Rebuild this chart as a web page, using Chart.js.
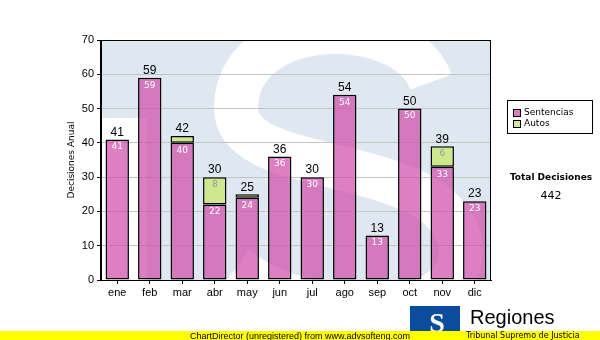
<!DOCTYPE html>
<html>
<head>
<meta charset="utf-8">
<script src="https://cdn.jsdelivr.net/npm/chart.js@4/dist/chart.umd.min.js"></script>
<style>
  html, body { margin: 0; padding: 0; background: #fff; }
  canvas { display: block; }
</style>
</head>
<body>
<canvas id="chart" width="600" height="340"></canvas>
<script>
// datos
var meses = ["ene", "feb", "mar", "abr", "may", "jun", "jul", "ago", "sep", "oct", "nov", "dic"];
var sentencias = [41, 59, 40, 22, 24, 36, 30, 54, 13, 50, 33, 23];
var autos = [0, 0, 2, 8, 1, 0, 0, 0, 0, 0, 6, 0];
var yTicks = [0, 10, 20, 30, 40, 50, 60, 70];

var total = 0;
for (var i = 0; i < meses.length; i++) total += sentencias[i] + autos[i];

var ARIAL = "'Liberation Sans', Arial, sans-serif";
var TAHOMA = "'DejaVu Sans', Verdana, sans-serif";

// fondo del area del grafico con la "S" blanca
var fondo = {
  id: "fondo",
  beforeDraw: function (chart) {
    var c = chart.ctx, a = chart.chartArea;
    c.save();
    c.beginPath();
    c.rect(a.left, a.top, a.right - a.left, a.bottom - a.top);
    c.clip();
    c.fillStyle = "#dfe8f1";
    c.fillRect(a.left, a.top, a.right - a.left, a.bottom - a.top);
    c.fillStyle = "#ffffff";
    c.fillRect(a.left, a.top + 78, 46, a.bottom - a.top - 78);
    c.strokeStyle = "#ffffff";
    c.lineWidth = 44;
    c.lineCap = "butt";
    c.beginPath();
    c.moveTo(a.left + 330, a.top + 42);
    c.bezierCurveTo(a.left + 305, a.top - 28, a.left + 140, a.top - 28, a.left + 135, a.top + 65);
    c.bezierCurveTo(a.left + 132, a.top + 120, a.left + 235, a.top + 118, a.left + 305, a.top + 148);
    c.bezierCurveTo(a.left + 390, a.top + 182, a.left + 372, a.top + 268, a.left + 280, a.top + 268);
    c.bezierCurveTo(a.left + 220, a.top + 268, a.left + 175, a.top + 258, a.left + 135, a.top + 228);
    c.stroke();
    c.restore();
  },
  afterDatasetsDraw: function (chart) {
    var c = chart.ctx, a = chart.chartArea;
    c.save();
    c.strokeStyle = "#000";
    c.lineWidth = 1;
    c.strokeRect(a.left - 0.5, a.top + 0.5, a.right - a.left, a.bottom - a.top);
    c.restore();
  }
};

// etiquetas, leyenda, total y pie
var extras = {
  id: "extras",
  afterDraw: function (chart) {
    var c = chart.ctx;
    var m0 = chart.getDatasetMeta(0), m1 = chart.getDatasetMeta(1);
    c.save();
    c.textAlign = "center";
    for (var i = 0; i < meses.length; i++) {
      var b0 = m0.data[i], b1 = m1.data[i];
      c.font = "9px " + TAHOMA;
      c.textBaseline = "top";
      c.fillStyle = "#ffffff";
      c.fillText(String(sentencias[i]), b0.x, b0.y + 3);
      if (autos[i] > 0 && Math.abs(b1.base - b1.y) > 12) {
        c.fillStyle = "#9a9a9a";
        c.fillText(String(autos[i]), b1.x, b1.y + 3);
      }
      c.font = "12px " + ARIAL;
      c.textBaseline = "bottom";
      c.fillStyle = "#000000";
      var top = autos[i] > 0 ? b1.y : b0.y;
      c.fillText(String(sentencias[i] + autos[i]), b0.x, top - 1);
    }

    // leyenda
    c.lineWidth = 1;
    c.strokeStyle = "#000";
    c.strokeRect(507.5, 100.5, 85, 33);
    var items = [["Sentencias", "#dd7cc0"], ["Autos", "#d3ea93"]];
    c.textAlign = "left";
    c.textBaseline = "middle";
    c.font = "9px " + TAHOMA;
    for (var k = 0; k < items.length; k++) {
      var yy = 113 + k * 11;
      c.fillStyle = items[k][1];
      c.fillRect(513.5, yy - 3.5, 7, 7);
      c.strokeRect(513.5, yy - 3.5, 7, 7);
      c.fillStyle = "#000";
      c.fillText(items[k][0], 524, yy);
    }

    // total
    c.textAlign = "center";
    c.font = "bold 9px " + TAHOMA;
    c.fillText("Total Decisiones", 551, 178);
    c.font = "11px " + TAHOMA;
    c.fillText(String(total), 551, 196);

    // logo
    c.fillStyle = "#0b4c9c";
    c.fillRect(410, 306, 50, 26);
    c.fillStyle = "#ffffff";
    c.font = "bold 28px 'Liberation Serif', serif";
    c.textBaseline = "alphabetic";
    c.fillText("S", 437, 332);
    c.fillStyle = "#000";
    c.textAlign = "left";
    c.font = "20px " + ARIAL;
    c.fillText("Regiones", 470, 324);

    // barra amarilla
    c.fillStyle = "#ffff00";
    c.fillRect(0, 331, 600, 9);
    c.fillStyle = "#000";
    c.font = "8px " + TAHOMA;
    c.fillText("Tribunal Supremo de Justicia", 466, 338);
    c.textAlign = "center";
    c.font = "9px " + ARIAL;
    c.fillText("ChartDirector (unregistered) from www.advsofteng.com", 300, 339);
    c.restore();
  }
};

new Chart(document.getElementById("chart").getContext("2d"), {
  type: "bar",
  data: {
    labels: meses,
    datasets: [
      {
        label: "Sentencias",
        data: sentencias,
        backgroundColor: "rgba(208, 78, 170, 0.72)",
        borderColor: "#000",
        borderWidth: 1.5,
        borderSkipped: false,
        barPercentage: 0.72,
        categoryPercentage: 1.0
      },
      {
        label: "Autos",
        data: autos,
        backgroundColor: "rgba(205, 232, 135, 0.95)",
        borderColor: "#000",
        borderWidth: function (ctx) { return ctx.raw > 0 ? 1.5 : 0; },
        borderSkipped: false,
        barPercentage: 0.72,
        categoryPercentage: 1.0
      }
    ]
  },
  options: {
    responsive: false,
    animation: false,
    layout: { padding: { left: 62, top: 40, right: 109, bottom: 0 } },
    plugins: { legend: { display: false }, tooltip: { enabled: false } },
    scales: {
      x: {
        stacked: true,
        afterFit: function (s) { s.height = 60; },
        grid: { display: true, drawOnChartArea: false, offset: false, tickLength: 4, color: "#000" },
        border: { color: "#000", width: 1 },
        ticks: { color: "#000", font: { family: ARIAL, size: 11 }, padding: 2 }
      },
      y: {
        stacked: true,
        min: yTicks[0],
        max: yTicks[yTicks.length - 1],
        afterFit: function (s) { s.width = 39; },
        afterBuildTicks: function (s) { s.ticks = yTicks.map(function (v) { return { value: v }; }); },
        grid: { color: "#c4c4c4", tickLength: 4, tickColor: "#000" },
        border: { color: "#000", width: 1 },
        ticks: { color: "#000", font: { family: ARIAL, size: 11 }, padding: 3 },
        title: { display: true, text: "Decisiones Anual", color: "#000", font: { family: TAHOMA, size: 9 } }
      }
    }
  },
  plugins: [fondo, extras]
});
</script>
</body>
</html>
